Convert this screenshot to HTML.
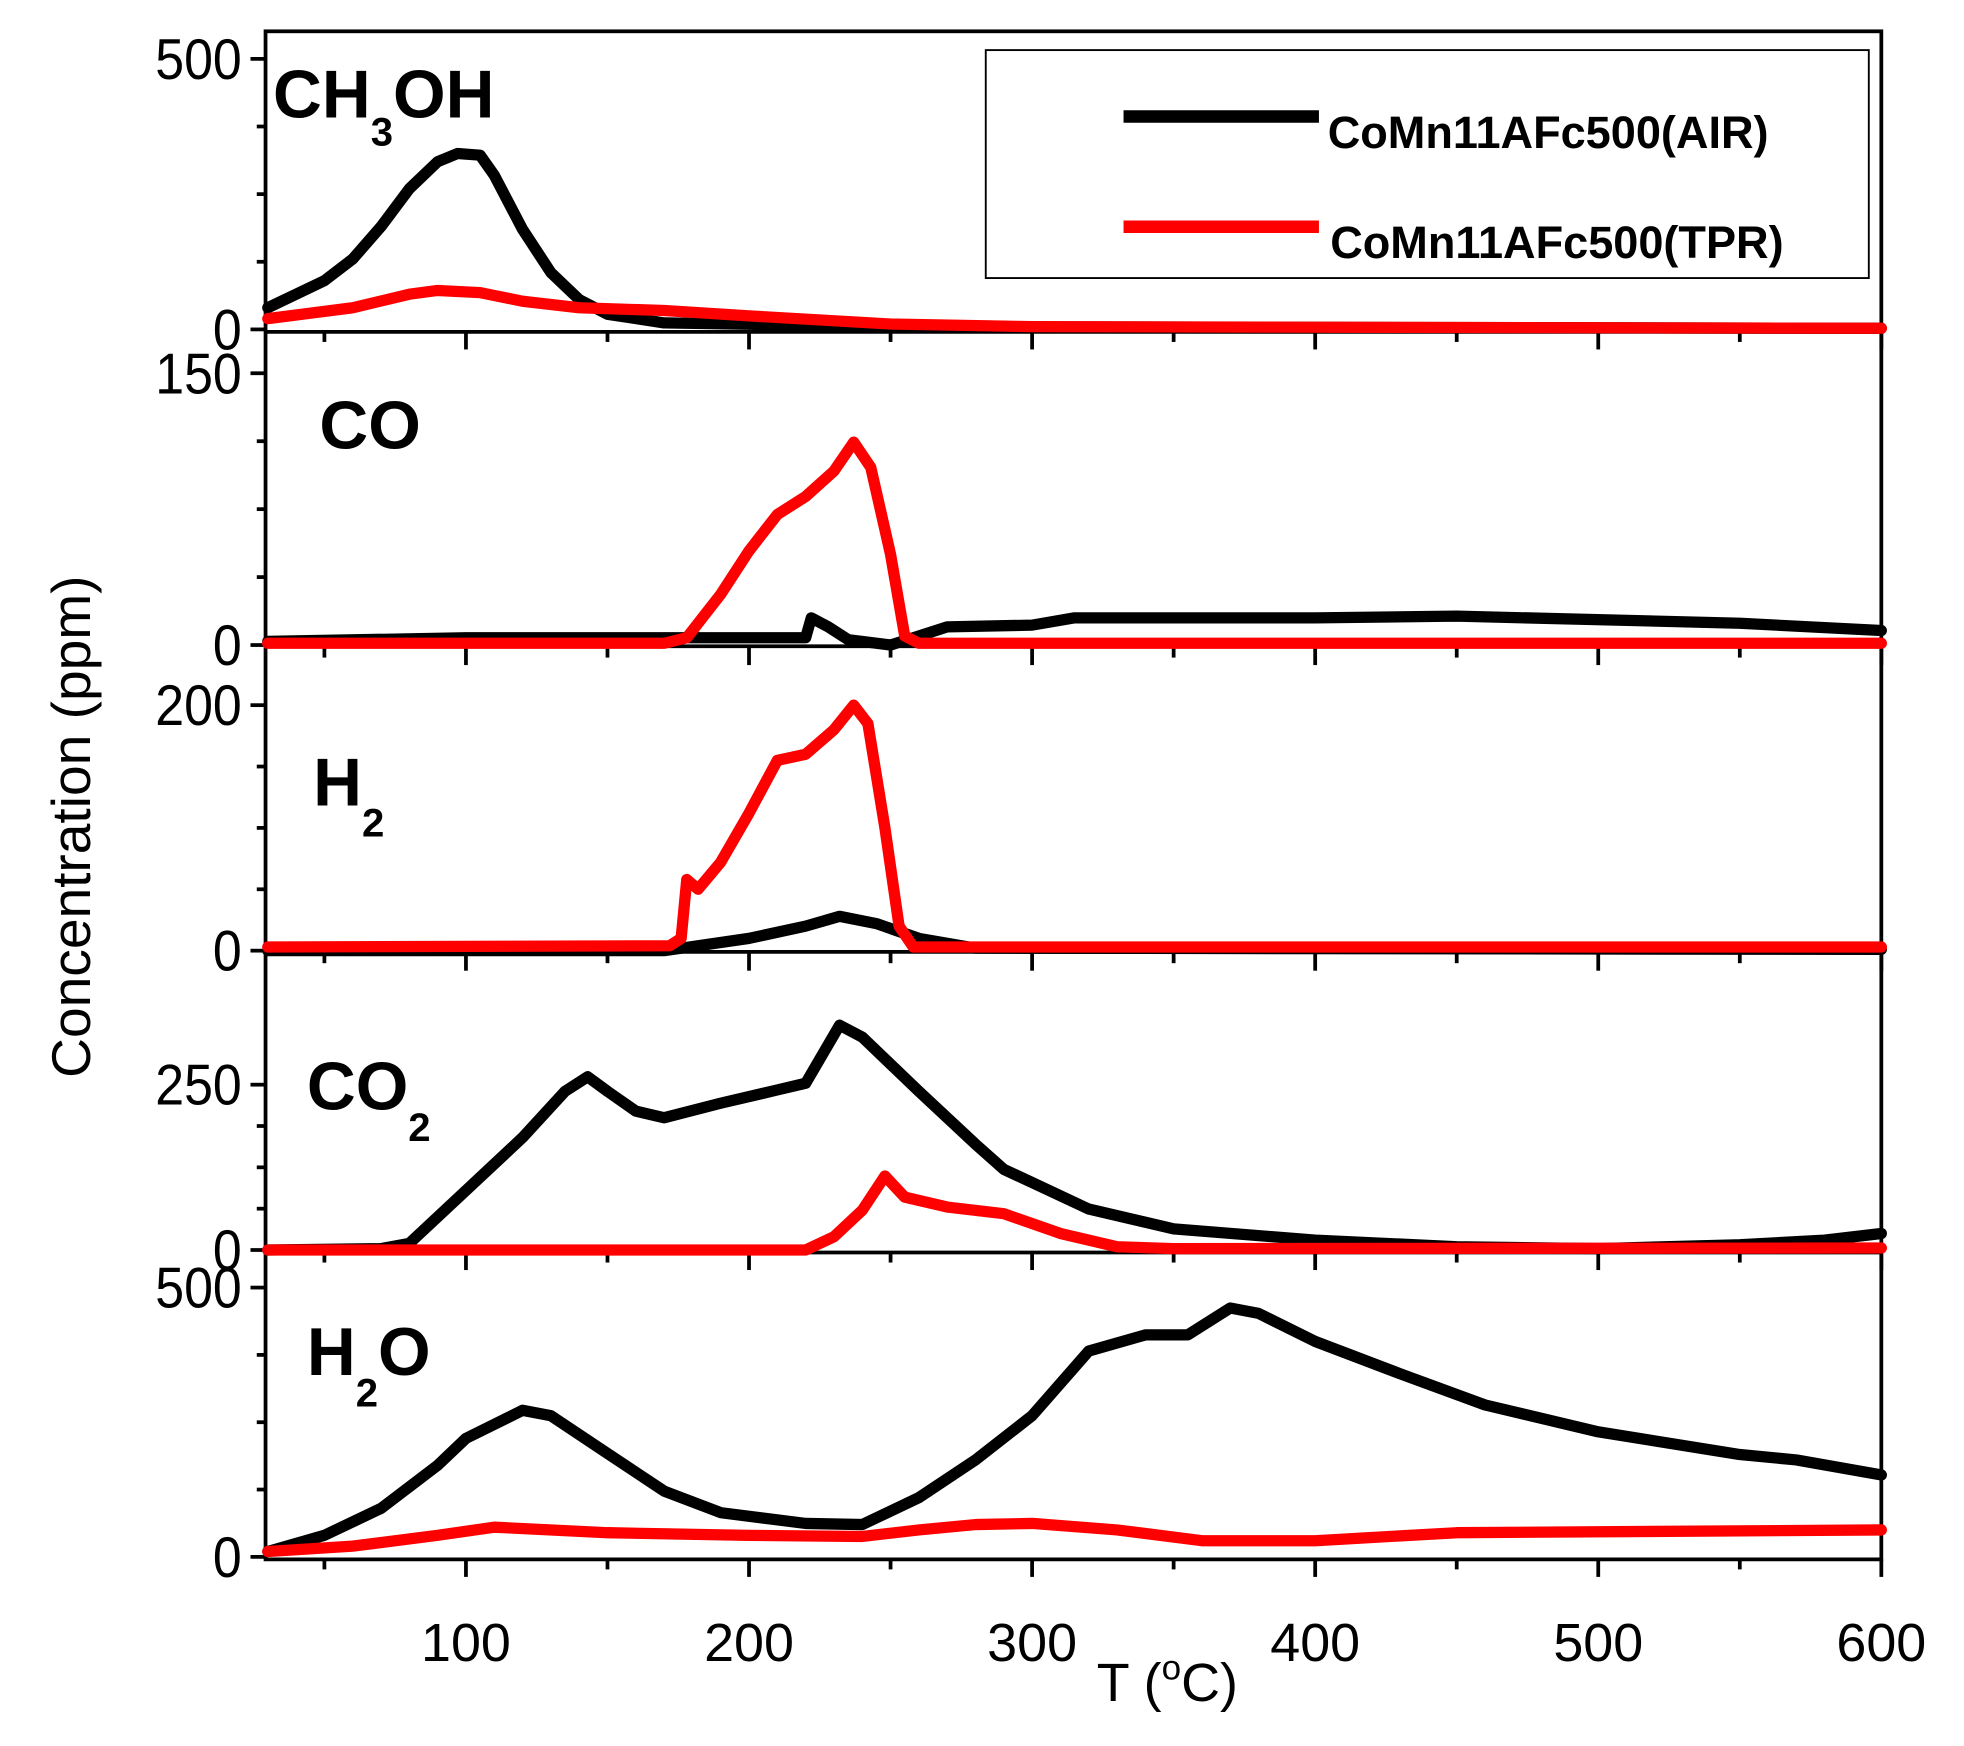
<!DOCTYPE html>
<html><head><meta charset="utf-8"><style>html,body{margin:0;padding:0;background:#fff}svg{display:block}</style></head>
<body>
<svg id="s" width="1964" height="1746" viewBox="0 0 1568 1394" preserveAspectRatio="none" xmlns="http://www.w3.org/2000/svg" font-family="Liberation Sans, sans-serif">
<rect width="1568" height="1394" fill="#fff"/>
<g id="frame" stroke="#000" stroke-width="3" fill="none">
<rect x="212" y="25" width="1290" height="1220"/>
<line x1="212" y1="265" x2="1502" y2="265"/>
<line x1="212" y1="516" x2="1502" y2="516"/>
<line x1="212" y1="760" x2="1502" y2="760"/>
<line x1="212" y1="1000" x2="1502" y2="1000"/>
</g>
<g id="ticks" stroke="#000" stroke-width="3"></g>
<g id="curves" fill="none" stroke-linejoin="round" stroke-linecap="round"></g>
<g font-size="46" text-anchor="end">
<text transform="translate(193 63) scale(0.9 1)">500</text>
<text transform="translate(193 279) scale(0.9 1)">0</text>
<text transform="translate(193 314) scale(0.9 1)">150</text>
<text transform="translate(193 531) scale(0.9 1)">0</text>
<text transform="translate(193 579) scale(0.9 1)">200</text>
<text transform="translate(193 775) scale(0.9 1)">0</text>
<text transform="translate(193 882) scale(0.9 1)">250</text>
<text transform="translate(193 1014) scale(0.9 1)">0</text>
<text transform="translate(193 1044) scale(0.9 1)">500</text>
<text transform="translate(193 1259) scale(0.9 1)">0</text>
</g>
<g font-size="43" text-anchor="middle">
<text x="372" y="1326">100</text><text x="598" y="1326">200</text><text x="824" y="1326">300</text>
<text x="1050" y="1326">400</text><text x="1276" y="1326">500</text><text x="1502" y="1326">600</text>
<text x="932" y="1358">T (<tspan font-size="28" dy="-17">o</tspan><tspan dy="17">C)</tspan></text>
</g>
<text transform="translate(72 660) rotate(-90)" font-size="44" text-anchor="middle">Concentration (ppm)</text>
<g font-size="54" font-weight="bold">
<text x="218" y="94">CH<tspan font-size="32" dy="22">3</tspan><tspan dy="-22">OH</tspan></text>
<text x="255" y="358">CO</text>
<text x="250" y="643">H<tspan font-size="32" dy="25">2</tspan></text>
<text x="245" y="886">CO<tspan font-size="32" dy="25">2</tspan></text>
<text x="245" y="1098">H<tspan font-size="32" dy="25">2</tspan><tspan dy="-25">O</tspan></text>
</g>
<rect x="787" y="40" width="705" height="182" fill="#fff" stroke="#000" stroke-width="1.5"/>
<line x1="897" y1="93" x2="1053" y2="93" stroke="#000" stroke-width="10"/>
<line x1="897" y1="181" x2="1053" y2="181" stroke="#f00" stroke-width="10"/>
<g font-size="36" font-weight="bold">
<text x="1060" y="118">CoMn11AFc500(AIR)</text>
<text x="1062" y="206">CoMn11AFc500(TPR)</text>
</g>
<script>
var NS='http://www.w3.org/2000/svg';
var X=function(t){return 372+(t-100)*2.26;};
var panels=[[263,47,500],[515,298,150],[759,563,200],[998,866,250],[1243,1028,500]];
function P(i,pts,col){var p=panels[i],k=(p[0]-p[1])/p[2],d='';
pts.forEach(function(q,j){d+=(j?'L':'M')+X(q[0]).toFixed(1)+','+(p[0]-q[1]*k).toFixed(1);});
var e=document.createElementNS(NS,'path');e.setAttribute('d',d);e.setAttribute('stroke',col);e.setAttribute('stroke-width','9');document.getElementById('curves').appendChild(e);}
P(0,[[30,40],[50,90],[60,130],[70,190],[80,260],[90,310],[97,325],[105,322],[110,285],[120,185],[130,105],[140,55],[150,28],[170,12],[250,5],[600,2]],'#000');
P(0,[[30,20],[60,40],[80,65],[90,72],[105,68],[120,52],[140,40],[170,35],[200,25],[250,10],[300,5],[600,2]],'#f00');
P(1,[[30,2],[100,4],[220,4],[222,15],[228,10],[235,3],[250,0],[260,5],[270,10],[300,11],[315,15],[400,15],[450,16],[550,12],[600,8]],'#000');
P(1,[[30,1],[170,1],[178,4],[190,28],[200,52],[210,72],[220,82],[230,96],[237,112],[243,98],[250,50],[255,5],[260,1],[600,1]],'#f00');
P(2,[[30,0],[170,0],[200,10],[220,20],[232,28],[245,22],[260,10],[280,2],[600,1]],'#000');
P(2,[[30,3],[172,4],[176,10],[178,58],[182,50],[190,72],[200,112],[210,155],[220,160],[230,180],[237,200],[242,185],[248,100],[253,20],[258,3],[600,3]],'#f00');
P(3,[[30,0],[70,2],[80,10],[100,90],[120,170],[135,240],[143,262],[150,240],[160,210],[170,200],[190,222],[210,242],[220,252],[232,340],[240,322],[260,240],[280,160],[290,122],[300,102],[320,62],[350,32],[400,15],[450,5],[500,2],[550,8],[580,15],[600,25]],'#000');
P(3,[[30,0],[220,0],[230,20],[240,60],[248,112],[255,80],[270,65],[290,55],[310,25],[330,5],[350,2],[600,3]],'#f00');
P(4,[[30,10],[50,40],[70,90],[90,170],[100,220],[120,272],[130,262],[150,192],[170,122],[190,82],[220,62],[240,60],[260,110],[280,180],[300,262],[320,382],[340,412],[355,412],[370,462],[380,452],[400,400],[430,340],[460,282],[500,232],[550,190],[570,180],[600,152]],'#000');
P(4,[[30,10],[60,20],[90,40],[110,55],[150,45],[200,40],[240,38],[260,50],[280,60],[300,62],[330,50],[360,30],[400,30],[450,45],[600,50]],'#f00');
var g=document.getElementById('ticks');
function L(a,b,c,d){var e=document.createElementNS(NS,'line');e.setAttribute('x1',a);e.setAttribute('y1',b);e.setAttribute('x2',c);e.setAttribute('y2',d);g.appendChild(e);}
panels.forEach(function(p,i){var k=(p[0]-p[1])/p[2];for(var f=0;f<=1.0001;f+=0.25){var y=p[0]-f*p[2]*k;if(y<25)continue;L((f==0||f==1)?200:205,y,212,y);}
for(var t=50;t<=600;t+=50){var x=X(t);if(x<212)continue;L(x,p[0]+2,x,p[0]+2+(t%100==0?14:8));}});
</script>
</svg>
</body></html>
